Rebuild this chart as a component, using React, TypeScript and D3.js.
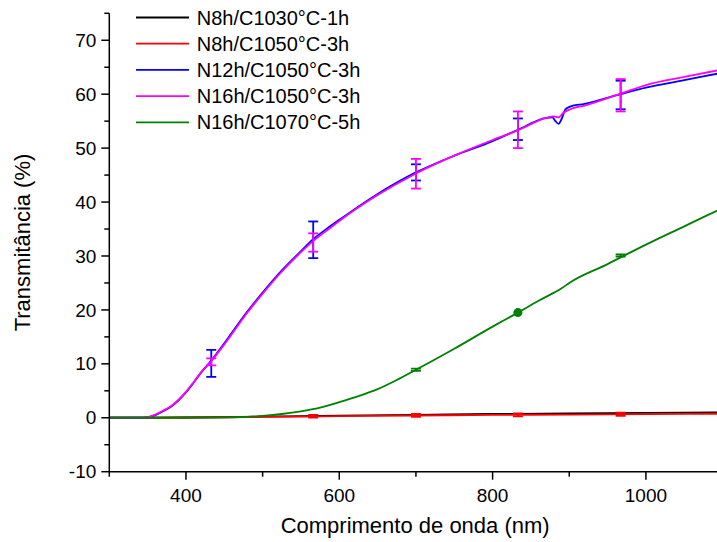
import React from "react";
import * as d3 from "d3";

const W = 717;
const H = 542;

// Wavelength grids (nm)
const wlSteep = [300, 340, 350, 360, 370, 380, 390, 400, 410, 420, 433, 450, 479, 500, 523, 550, 566, 588, 600, 650, 700, 750, 800, 833, 870, 878, 882, 886, 890, 895, 901, 920, 967, 1000, 1050, 1100];
const n12Values = [0, 0, 0.1, 0.5, 1.2, 2.0, 3.2, 4.7, 6.5, 8.4, 10.6, 13.8, 19.5, 23.2, 27.0, 30.9, 33.1, 35.5, 36.7, 41.5, 45.5, 48.6, 51.3, 53.4, 55.6, 55.7, 55.0, 54.5, 55.4, 57.2, 57.7, 58.2, 60.0, 61.2, 62.6, 64.0];

const wlN16 = [300, 340, 350, 360, 370, 380, 390, 400, 410, 420, 433, 450, 479, 500, 523, 550, 566, 588, 600, 650, 700, 750, 800, 833, 870, 880, 886, 892, 901, 920, 967, 1000, 1050, 1100];
const n16Values = [0, 0, 0.1, 0.6, 1.3, 2.1, 3.3, 4.8, 6.6, 8.5, 10.5, 13.6, 19.3, 23.0, 26.8, 30.7, 32.8, 35.2, 36.5, 41.3, 45.3, 48.6, 51.5, 53.3, 55.6, 55.9, 55.7, 56.5, 57.2, 57.9, 60.1, 61.7, 63.2, 64.6];

const wlGreen = [300, 450, 480, 500, 525, 550, 575, 600, 625, 650, 675, 700, 750, 800, 833, 860, 880, 890, 900, 950, 1000, 1050, 1100];
const c1070Values = [0, 0.05, 0.15, 0.35, 0.7, 1.2, 1.9, 2.9, 4.0, 5.3, 7.0, 8.9, 12.8, 16.9, 19.5, 21.7, 23.2, 24.0, 25.0, 28.5, 32.1, 35.5, 38.9];

const wlFlat = [300, 400, 500, 600, 700, 800, 900, 1000, 1100];
const c1030Values = [0, 0.05, 0.2, 0.4, 0.55, 0.7, 0.8, 0.9, 1.0];
const c1050Values = [0, 0.05, 0.15, 0.3, 0.42, 0.52, 0.6, 0.68, 0.75];

// Error bars: [wavelength, low, high]
const errN12 = [[433, 7.6, 12.6], [566, 29.6, 36.4], [700, 44.0, 47.0], [833, 51.5, 55.5], [967, 57.2, 62.5]];
const errN16 = [[433, 9.7, 11.0], [566, 30.8, 34.2], [700, 42.5, 48.0], [833, 50.0, 56.8], [967, 56.8, 62.8]];
const errC1050 = [[566, 0.05, 0.55], [700, 0.15, 0.7], [833, 0.25, 0.8], [967, 0.35, 0.95]];
const errC1070 = [[700, 8.7, 9.1], [967, 29.9, 30.3]];
const markC1070 = [[833, 19.5]];

const legendLabels = ["N8h/C1030°C-1h", "N8h/C1050°C-3h", "N12h/C1050°C-3h", "N16h/C1050°C-3h", "N16h/C1070°C-5h"];
const colors = ["#000000", "#ff0000", "#0000ff", "#ff00ff", "#008000"];

const xMajor = [400, 600, 800, 1000];
const xMinor = [300, 500, 700, 900, 1100];
const yMajor = [-10, 0, 10, 20, 30, 40, 50, 60, 70];
const yMinor = [-5, 5, 15, 25, 35, 45, 55, 65, 75];

const FONT = "Liberation Sans, Arial, sans-serif";

export default function App() {
  const left = 109.3;
  const x = d3.scaleLinear().domain([300, 1100]).range([left, left + 800 * 0.7666]);
  const y = d3.scaleLinear().domain([-10, 75]).range([471.7, 13.3]);

  const mk = (xs: number[], vs: number[]) =>
    d3.line<number>().x((_, i) => x(xs[i])).y((v) => y(v)).curve(d3.curveMonotoneX)(vs) || "";

  const series = [
    { xs: wlFlat, vs: c1030Values, c: colors[0] },
    { xs: wlFlat, vs: c1050Values, c: colors[1] },
    { xs: wlSteep, vs: n12Values, c: colors[2] },
    { xs: wlN16, vs: n16Values, c: colors[3] },
    { xs: wlGreen, vs: c1070Values, c: colors[4] },
  ];

  const errs = [
    { d: errN12, c: colors[2] },
    { d: errN16, c: colors[3] },
    { d: errC1050, c: colors[1] },
    { d: errC1070, c: colors[4] },
  ];

  const y0 = y(-10);
  return (
    <svg width={W} height={H} style={{ position: "absolute", left: 0, top: 0 }} fontFamily={FONT}>
      <rect width={W} height={H} fill="#fff" />
      <defs>
        <clipPath id="plot">
          <rect x={left} y={0} width={W - left} height={y0} />
        </clipPath>
      </defs>
      <g clipPath="url(#plot)">
        {series.map((s, i) => (
          <path key={i} d={mk(s.xs, s.vs)} fill="none" stroke={s.c} strokeWidth={1.8} />
        ))}
        {errs.map((e, i) =>
          e.d.map((p, j) => {
            const px = x(p[0]);
            return (
              <g key={i + "-" + j} stroke={e.c} strokeWidth={1.8}>
                <line x1={px} x2={px} y1={y(p[1])} y2={y(p[2])} />
                <line x1={px - 5} x2={px + 5} y1={y(p[1])} y2={y(p[1])} />
                <line x1={px - 5} x2={px + 5} y1={y(p[2])} y2={y(p[2])} />
              </g>
            );
          })
        )}
        {markC1070.map((p, i) => (
          <circle key={i} cx={x(p[0])} cy={y(p[1])} r={4.5} fill={colors[4]} />
        ))}
      </g>

      {/* axes */}
      <g stroke="#000" strokeWidth={1.5}>
        <line x1={left} x2={left} y1={y(75)} y2={y0} />
        <line x1={left} x2={W} y1={y0} y2={y0} />
        {yMajor.map((t) => (
          <line key={"ym" + t} x1={left - 8} x2={left} y1={y(t)} y2={y(t)} />
        ))}
        {yMinor.map((t) => (
          <line key={"yn" + t} x1={left - 5} x2={left} y1={y(t)} y2={y(t)} />
        ))}
        {xMajor.map((t) => (
          <line key={"xm" + t} x1={x(t)} x2={x(t)} y1={y0} y2={y0 + 8} />
        ))}
        {xMinor.map((t) => (
          <line key={"xn" + t} x1={x(t)} x2={x(t)} y1={y0} y2={y0 + 5} />
        ))}
      </g>
      <g fontSize={19} fill="#000">
        {yMajor.map((t) => (
          <text key={"yl" + t} x={left - 13} y={y(t)} dy="0.35em" textAnchor="end">
            {t}
          </text>
        ))}
        {xMajor.map((t) => (
          <text key={"xl" + t} x={x(t)} y={y0 + 30} textAnchor="middle">
            {t}
          </text>
        ))}
      </g>
      <text x={(left + W) / 2 + 2} y={533} fontSize={22} textAnchor="middle">
        Comprimento de onda (nm)
      </text>
      <text transform={`translate(30, ${(y(75) + y0) / 2}) rotate(-90)`} fontSize={22} textAnchor="middle">
        Transmitância (%)
      </text>

      {/* legend */}
      {legendLabels.map((l, i) => {
        const ly = 17.5 + i * 26.2;
        return (
          <g key={l}>
            <line x1={136} x2={189} y1={ly} y2={ly} stroke={colors[i]} strokeWidth={1.8} />
            <text x={196.7} y={ly} dy="0.35em" fontSize={20}>
              {l}
            </text>
          </g>
        );
      })}
    </svg>
  );
}
